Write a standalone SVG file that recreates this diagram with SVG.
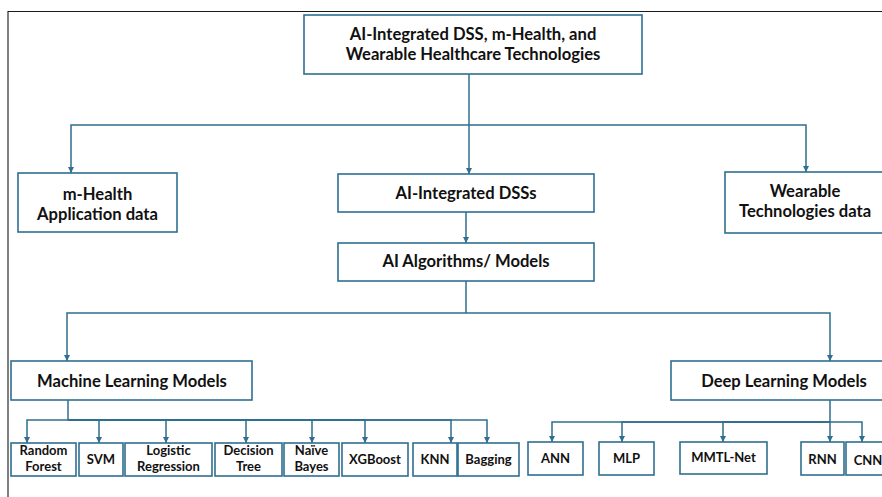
<svg xmlns="http://www.w3.org/2000/svg" width="882" height="497" viewBox="0 0 882 497">
<defs>
<style>
.box{fill:#fff;stroke:#2f6f8f;stroke-width:1.6}
.t{font-family:Lato,"Noto Sans","Liberation Sans",sans-serif;font-weight:700;fill:#111;text-anchor:middle}
.big{font-size:16.6px}
.sm{font-size:13px}
.c{fill:none;stroke:#2f6f8f;stroke-width:1.5}
.a{marker-end:url(#arr)}
</style>
<marker id="arr" markerUnits="userSpaceOnUse" markerWidth="7" markerHeight="7" refX="6" refY="3.5" orient="auto">
<path d="M0,0.5 L6,3.5 L0,6.5 z" fill="#2f6f8f"/>
</marker>
</defs>
<rect width="882" height="497" fill="#fff"/>
<line x1="8" y1="11" x2="8" y2="497" stroke="#7f7f7f" stroke-width="2"/>
<line x1="8" y1="11.5" x2="882" y2="11.5" stroke="#1a1a1a" stroke-width="1.2"/>

<g id="connectors">
<path class="c" d="M469,74 V125"/>
<path class="c a" d="M469,125 H71 V173"/>
<path class="c a" d="M469,125 H806 V172"/>
<path class="c a" d="M469,125 V174"/>
<path class="c a" d="M466,212 V243"/>
<path class="c" d="M466,281 V313"/>
<path class="c a" d="M466,313 H67 V361"/>
<path class="c a" d="M466,313 H830 V361"/>
<path class="c" d="M68,400 V420"/>
<path class="c a" d="M68,420 H27 V443"/>
<path class="c a" d="M68,420 H99 V443"/>
<path class="c a" d="M68,420 H166 V443"/>
<path class="c a" d="M68,420 H246 V443"/>
<path class="c a" d="M68,420 H312 V443"/>
<path class="c a" d="M68,420 H365 V443"/>
<path class="c a" d="M68,420 H451 V443"/>
<path class="c a" d="M68,420 H487 V443"/>
<path class="c a" d="M830,400 V442"/>
<path class="c a" d="M830,422 H552 V442"/>
<path class="c a" d="M830,422 H622 V442"/>
<path class="c a" d="M830,422 H723 V442"/>
<path class="c a" d="M830,422 H862 V442"/>
</g>

<g id="root"><rect class="box" x="304" y="15" width="338" height="59"/>
<text class="t big" x="473" y="39.5">AI-Integrated DSS, m-Health, and</text>
<text class="t big" x="473" y="59.5">Wearable Healthcare Technologies</text></g>

<g id="mhealth"><rect class="box" x="18" y="173" width="159" height="59"/>
<text class="t big" x="97.5" y="200">m-Health</text>
<text class="t big" x="97.5" y="220">Application data</text></g>

<g id="aidss"><rect class="box" x="338" y="174" width="256" height="38"/>
<text class="t big" x="466" y="199">AI-Integrated DSSs</text></g>

<g id="wearable"><rect class="box" x="725" y="172" width="165" height="61"/>
<text class="t big" x="805" y="197">Wearable</text>
<text class="t big" x="805" y="217">Technologies data</text></g>

<g id="aialgo"><rect class="box" x="338" y="243" width="256" height="38"/>
<text class="t big" x="466" y="267">AI Algorithms/ Models</text></g>

<g id="ml"><rect class="box" x="11" y="361" width="241" height="39"/>
<text class="t big" x="132" y="387">Machine Learning Models</text></g>

<g id="dl"><rect class="box" x="671" y="361" width="226" height="39"/>
<text class="t big" x="784" y="387">Deep Learning Models</text></g>

<g id="rf"><rect class="box" x="11" y="443" width="65" height="33"/>
<text class="t sm" x="43.5" y="455.2">Random</text><text class="t sm" x="43.5" y="471">Forest</text></g>
<g id="svm"><rect class="box" x="79" y="443" width="44" height="33"/>
<text class="t sm" x="101" y="464">SVM</text></g>
<g id="lr"><rect class="box" x="125" y="443" width="87" height="33"/>
<text class="t sm" x="168.5" y="455.2">Logistic</text><text class="t sm" x="168.5" y="471">Regression</text></g>
<g id="dt"><rect class="box" x="215" y="443" width="67" height="33"/>
<text class="t sm" x="248.5" y="455.2">Decision</text><text class="t sm" x="248.5" y="471">Tree</text></g>
<g id="nb"><rect class="box" x="284" y="443" width="55" height="33"/>
<text class="t sm" x="311.5" y="455.2">Naïve</text><text class="t sm" x="311.5" y="471">Bayes</text></g>
<g id="xgb"><rect class="box" x="342" y="443" width="66" height="33"/>
<text class="t sm" x="375" y="464">XGBoost</text></g>
<g id="knn"><rect class="box" x="413" y="443" width="44" height="33"/>
<text class="t sm" x="435" y="464">KNN</text></g>
<g id="bag"><rect class="box" x="458" y="443" width="61" height="33"/>
<text class="t sm" x="488.5" y="464">Bagging</text></g>

<g id="ann"><rect class="box" x="528" y="442" width="55" height="33"/>
<text class="t sm" x="555.5" y="463">ANN</text></g>
<g id="mlp"><rect class="box" x="599" y="442" width="55" height="33"/>
<text class="t sm" x="626.5" y="463">MLP</text></g>
<g id="mmtl"><rect class="box" x="680" y="442" width="87" height="32"/>
<text class="t sm" x="723.5" y="462">MMTL-Net</text></g>
<g id="rnn"><rect class="box" x="801" y="442" width="43" height="33"/>
<text class="t sm" x="822.5" y="464">RNN</text></g>
<g id="cnn"><rect class="box" x="846" y="442" width="44" height="33"/>
<text class="t sm" x="868" y="465">CNN</text></g>
</svg>
